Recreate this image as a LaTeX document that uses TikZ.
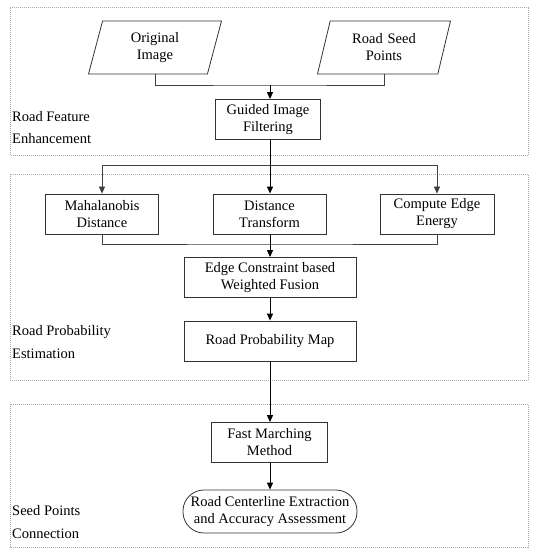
\documentclass[tikz,border=0pt]{standalone}
\usepackage{fontspec}
\setmainfont{Liberation Serif}
\usetikzlibrary{arrows.meta,positioning,shapes.geometric}

\begin{document}
\begin{tikzpicture}[x=1pt,y=-1pt,
  flow/.style={draw=black,line width=1pt,-{Triangle[length=7pt,width=6pt]}},
  link/.style={draw=black!75,line width=.7pt},
  proc/.style={draw=black!80,line width=.8pt,align=center,inner sep=0pt,
    font=\fontsize{14.5}{17}\selectfont,minimum height=40pt},
  data/.style={draw=black!80,line width=.8pt,align=center,inner sep=0pt,
    trapezium,trapezium left angle=65,trapezium right angle=115,
    trapezium stretches body,text width=66pt,
    font=\fontsize{14.5}{17}\selectfont,minimum height=53pt,minimum width=133pt},
  term/.style={draw=black!80,line width=.8pt,align=center,inner sep=0pt,
    rounded corners=21pt,font=\fontsize{14.5}{17}\selectfont,
    minimum height=43pt,minimum width=174pt},
  group/.style={draw=black!35,line width=.6pt,dash pattern=on 1pt off 1pt},
  stage/.style={anchor=west,align=left,inner sep=0pt,
    font=\fontsize{14.5}{22.5}\selectfont}]

\useasboundingbox (0,0) rectangle (538,550);

% stage frames
\draw[group] (10,7.5) rectangle (528,155);
\draw[group] (10,174) rectangle (528,380);
\draw[group] (10,404) rectangle (528,547);

\node[stage] (featlbl) at (12,127.5) {Road Feature\\Enhancement};
\node[stage] (problbl) at (12,342) {Road Probability\\Estimation};
\node[stage] (seedlbl) at (12,522) {Seed Points\\Connection};

% inputs
\node[data] (orig) at (155,47.5) {Original\\Image};
\node[data] (seeds) at (384,47.5) {Road Seed\\Points};
\node[proc,minimum width=105pt] (guided) at (268,119.5) {Guided Image\\Filtering};

% features
\node[proc,minimum width=113pt] (mahal) at (102,214) {Mahalanobis\\Distance};
\node[proc,minimum width=113pt] (dist) at (269.5,214) {Distance\\Transform};
\node[proc,minimum width=114pt] (energy) at (437,214) {Compute Edge\\Energy};
\node[proc,minimum width=172pt] (fusion) at (270,277.5) {Edge Constraint based\\Weighted Fusion};
\node[proc,minimum width=172pt] (probmap) at (270,341) {Road Probability Map};

% connection
\node[proc,minimum width=116pt] (fmm) at (269.5,442.5) {Fast Marching\\Method};
\node[term] (extract) at (270,511.5) {Road Centerline Extraction\\and Accuracy Assessment};

\coordinate (join1) at (270,85);
\coordinate (split) at (270,165);
\coordinate (join2) at (270,244);

\draw[link] (orig.south) |- (join1) -| (seeds.south);
\draw[flow] (join1) -- (guided.north -| join1);
\draw[flow,-] (guided.south -| split) -- (split);
\draw[link,-{Triangle[length=7pt,width=6pt]}] (split) -| (mahal.north);
\draw[link,-{Triangle[length=7pt,width=6pt]}] (split) -| (energy.north);
\draw[flow] (split) -- (dist.north -| split);
\draw[link] (mahal.south) |- (join2) -| (energy.south);
\draw[flow] (dist.south -| join2) -- (fusion.north);
\draw[flow] (fusion) -- (probmap);
\draw[flow] (probmap) -- (fmm.north -| probmap);
\draw[flow] (fmm.south -| probmap) -- (extract);
\end{tikzpicture}
\end{document}
